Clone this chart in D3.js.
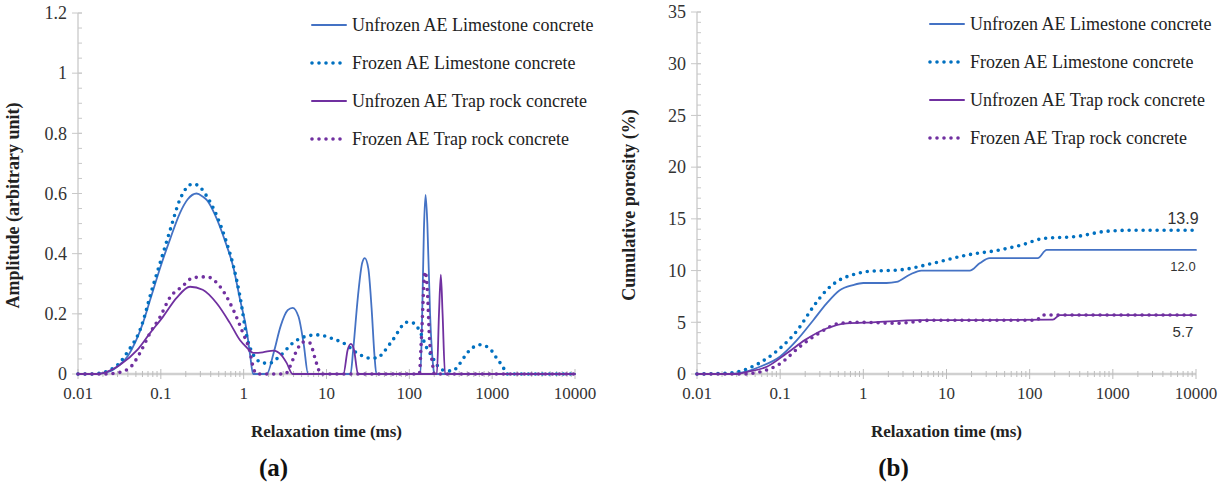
<!DOCTYPE html>
<html>
<head>
<meta charset="utf-8">
<script src="https://cdn.jsdelivr.net/npm/d3@7"></script>
<style>
  body { margin: 0; background: #fff; }
  svg text { font-family: "Liberation Serif", "Times New Roman", serif; fill: #222; }
</style>
</head>
<body>
<div id="chart"></div>
<script>
// relaxation time (ms) / amplitude pairs
const unfrozenLime = [
  [0.01, 0], [0.015, 0], [0.02, 0.003], [0.025, 0.01], [0.03, 0.025], [0.04, 0.06], [0.05, 0.11],
  [0.06, 0.165], [0.075, 0.25], [0.1, 0.36], [0.13, 0.45], [0.17, 0.535], [0.21, 0.58], [0.27, 0.6],
  [0.32, 0.59], [0.36, 0.578], [0.45, 0.53], [0.6, 0.44], [0.75, 0.355], [0.9, 0.25], [1.1, 0.136],
  [1.2, 0.06], [1.3, 0], [1.9, 0], [2.3, 0.07], [2.8, 0.16], [3.4, 0.212], [3.9, 0.22], [4.6, 0.19],
  [5.3, 0.1], [6.0, 0], [19.5, 0], [21, 0.08], [24, 0.26], [27, 0.37], [29, 0.385], [32, 0.35],
  [35, 0.22], [38, 0.06], [40, 0], [136, 0], [143, 0.2], [150, 0.48], [157, 0.595], [165, 0.5],
  [178, 0.2], [195, 0.02], [200, 0], [10000, 0]
];
const frozenLime = [
  [0.01, 0], [0.015, 0], [0.02, 0.005], [0.025, 0.015], [0.03, 0.03], [0.04, 0.075], [0.056, 0.146],
  [0.08, 0.29], [0.106, 0.4], [0.13, 0.48], [0.17, 0.58], [0.245, 0.632], [0.3, 0.62], [0.36, 0.59],
  [0.45, 0.54], [0.6, 0.45], [0.75, 0.36], [0.9, 0.26], [1.1, 0.12], [1.3, 0.065], [1.6, 0.04],
  [2.0, 0.035], [2.75, 0.06], [4, 0.105], [5.3, 0.123], [7.7, 0.13], [12.5, 0.115], [16, 0.103],
  [25, 0.065], [33, 0.053], [41, 0.053], [48, 0.07], [63, 0.113], [94, 0.172], [110, 0.17],
  [135, 0.14], [160, 0.09], [190, 0.056], [215, 0.03], [255, 0.013], [330, 0.01], [410, 0.036],
  [500, 0.07], [710, 0.097], [920, 0.086], [1130, 0.053], [1370, 0.02], [1500, 0], [10000, 0]
];
const unfrozenTrap = [
  [0.01, 0], [0.017, 0], [0.02, 0.003], [0.032, 0.03], [0.052, 0.08], [0.074, 0.136], [0.106, 0.19],
  [0.155, 0.253], [0.225, 0.29], [0.32, 0.28], [0.47, 0.236], [0.68, 0.17], [0.9, 0.113], [1.1, 0.087],
  [1.3, 0.07], [1.7, 0.072], [2.3, 0.078], [2.8, 0.065], [3.3, 0.037], [3.9, 0], [16, 0], [18, 0.08],
  [19.7, 0.1], [21.5, 0.08], [24, 0], [215, 0], [228, 0.2], [240, 0.33], [252, 0.2], [270, 0], [10000, 0]
];
const frozenTrap = [
  [0.01, 0], [0.02, 0], [0.03, 0.004], [0.043, 0.023], [0.056, 0.07], [0.074, 0.136], [0.098, 0.19],
  [0.13, 0.256], [0.18, 0.29], [0.245, 0.32], [0.36, 0.323], [0.52, 0.29], [0.75, 0.213],
  [0.98, 0.136], [1.2, 0.07], [1.3, 0.023], [1.45, 0], [3.2, 0], [3.6, 0.023], [4.4, 0.08],
  [5.2, 0.106], [6.3, 0.103], [7.2, 0.056], [7.9, 0.02], [8.5, 0], [132, 0], [140, 0.12],
  [155, 0.34], [165, 0.28], [175, 0.12], [190, 0.036], [200, 0], [10000, 0]
];

// cumulative porosity (%)
const cumUnfrozenLime = [
  [0.01, 0], [0.025, 0], [0.04, 0.25], [0.057, 0.7], [0.1, 1.7], [0.16, 3.3], [0.25, 5.2], [0.36, 6.8],
  [0.52, 8.1], [0.75, 8.6], [1.0, 8.8], [1.9, 8.8], [2.5, 8.9], [3.6, 9.6], [5.0, 10.0], [19, 10.0],
  [25, 10.7], [33, 11.2], [125, 11.2], [160, 12.0], [10000, 12.0]
];
const cumFrozenLime = [
  [0.01, 0], [0.025, 0.1], [0.043, 0.6], [0.069, 1.5], [0.1, 2.5], [0.16, 4.2], [0.25, 6.5], [0.36, 8.1],
  [0.52, 9.1], [0.75, 9.6], [1.1, 9.9], [3, 10.1], [6.8, 10.7], [17.6, 11.5], [44, 12.0], [82, 12.5],
  [145, 13.1], [370, 13.3], [840, 13.8], [1700, 13.9], [10000, 13.9]
];
const cumUnfrozenTrap = [
  [0.01, 0], [0.03, 0], [0.04, 0.2], [0.069, 0.7], [0.12, 2.0], [0.2, 3.3], [0.36, 4.4], [0.63, 4.9],
  [1.3, 5.0], [4.8, 5.2], [19, 5.2], [190, 5.25], [230, 5.7], [10000, 5.7]
];
const cumFrozenTrap = [
  [0.01, 0], [0.035, 0], [0.057, 0.2], [0.1, 1.0], [0.17, 2.6], [0.3, 4.0], [0.52, 4.9], [0.9, 5.0],
  [2.5, 4.9], [6.8, 5.2], [120, 5.2], [145, 5.7], [10000, 5.7]
];

const seriesNames = [
  "Unfrozen AE Limestone concrete",
  "Frozen AE Limestone concrete",
  "Unfrozen AE Trap rock concrete",
  "Frozen AE Trap rock concrete"
];
const seriesColors = ["#4472c4", "#0070c0", "#7030a0", "#7030a0"];
const seriesDotted = [false, true, false, true];

const xTicks = [0.01, 0.1, 1, 10, 100, 1000, 10000];
const ampTicks = [0, 0.2, 0.4, 0.6, 0.8, 1, 1.2];
const porTicks = [0, 5, 10, 15, 20, 25, 30, 35];
const endLabels = [["13.9", 13.9], ["12.0", 12.0], ["5.7", 5.7]];

const svg = d3.select("#chart").append("svg")
  .attr("width", 1228)
  .attr("height", 484);

function drawPanel(opt) {
  const g = svg.append("g").attr("transform", "translate(" + opt.left + "," + opt.top + ")");
  const x = d3.scaleLog().domain([0.01, 10000]).range([0, opt.width]);
  const y = d3.scaleLinear().domain([0, opt.ymax]).range([opt.height, 0]);

  // y axis line + ticks
  g.append("line").attr("x1", 0).attr("x2", 0).attr("y1", 0).attr("y2", opt.height)
    .attr("stroke", "#d0d0d0").attr("stroke-width", 1.5);
  const minorY = d3.range(0, opt.ymax + opt.minorStep / 2, opt.minorStep);
  g.selectAll(".ymin").data(minorY).join("line")
    .attr("x1", 0).attr("x2", 4).attr("y1", d => y(d)).attr("y2", d => y(d))
    .attr("stroke", "#c8c8c8");
  g.selectAll(".ymaj").data(opt.yTicks).join("line")
    .attr("x1", -6).attr("x2", 4).attr("y1", d => y(d)).attr("y2", d => y(d))
    .attr("stroke", "#c8c8c8");
  g.selectAll(".ylab").data(opt.yTicks).join("text")
    .attr("x", -11).attr("y", d => y(d)).attr("dy", "0.35em")
    .attr("text-anchor", "end").style("font-size", "18px").style("fill", "#333")
    .text(d => d);

  // x axis line + log ticks
  g.append("line").attr("x1", 0).attr("x2", opt.width).attr("y1", opt.height).attr("y2", opt.height)
    .attr("stroke", "#d0d0d0").attr("stroke-width", 2.5);
  const minorX = [];
  xTicks.slice(0, -1).forEach(d => { for (let k = 2; k < 10; k++) minorX.push(d * k); });
  g.selectAll(".xmin").data(minorX).join("line")
    .attr("x1", d => x(d)).attr("x2", d => x(d))
    .attr("y1", opt.height - 3).attr("y2", opt.height + 3)
    .attr("stroke", "#bdbdbd");
  g.selectAll(".xmaj").data(xTicks).join("line")
    .attr("x1", d => x(d)).attr("x2", d => x(d))
    .attr("y1", opt.height - 5).attr("y2", opt.height + 5)
    .attr("stroke", "#bdbdbd");
  g.selectAll(".xlab").data(xTicks).join("text")
    .attr("x", d => x(d)).attr("y", opt.height + 25)
    .attr("text-anchor", "middle").style("font-size", "17px").style("fill", "#333")
    .text(d => d);

  // axis titles
  g.append("text")
    .attr("x", opt.width / 2).attr("y", opt.height + 63)
    .attr("text-anchor", "middle").style("font-size", "17px").style("font-weight", "bold")
    .text("Relaxation time (ms)");
  g.append("text")
    .attr("transform", "translate(" + opt.ytitleX + "," + (opt.height / 2 + 12) + ") rotate(-90)")
    .attr("text-anchor", "middle").style("font-size", "18px").style("font-weight", "bold")
    .text(opt.ytitle);
  g.append("text")
    .attr("x", opt.width / 2 - 53).attr("y", opt.height + 102)
    .attr("text-anchor", "middle").style("font-size", "25px").style("font-weight", "bold")
    .style("fill", "#111")
    .text(opt.tag);

  // data lines
  const line = d3.line()
    .x(d => x(d[0]))
    .y(d => y(d[1]))
    .curve(d3.curveMonotoneX);
  opt.series.forEach((s, i) => {
    g.append("path")
      .datum(s)
      .attr("fill", "none")
      .attr("stroke", seriesColors[i])
      .attr("stroke-width", seriesDotted[i] ? 3.6 : 1.8)
      .attr("stroke-linecap", "round")
      .attr("stroke-dasharray", seriesDotted[i] ? "0 7" : null)
      .attr("d", line);
  });

  // legend
  const lg = g.append("g").attr("transform", "translate(" + opt.legendX + ",0)");
  seriesNames.forEach((name, i) => {
    const ly = 12 + i * 38;
    lg.append("line")
      .attr("x1", 0).attr("x2", 34).attr("y1", ly).attr("y2", ly)
      .attr("stroke", seriesColors[i])
      .attr("stroke-width", seriesDotted[i] ? 3.6 : 2)
      .attr("stroke-linecap", "round")
      .attr("stroke-dasharray", seriesDotted[i] ? "0 7" : null);
    lg.append("text")
      .attr("x", 40).attr("y", ly).attr("dy", "0.35em")
      .style("font-size", "18px").style("fill", "#222")
      .text(name);
  });

  return { g: g, x: x, y: y };
}

drawPanel({
  left: 78, top: 13, width: 497, height: 361, ymax: 1.2, minorStep: 0.05,
  yTicks: ampTicks, ytitle: "Amplitude (arbitrary unit)", ytitleX: -59, tag: "(a)",
  legendX: 234, series: [unfrozenLime, frozenLime, unfrozenTrap, frozenTrap]
});

const b = drawPanel({
  left: 697, top: 12, width: 499, height: 362, ymax: 35, minorStep: 1,
  yTicks: porTicks, ytitle: "Cumulative porosity (%)", ytitleX: -62, tag: "(b)",
  legendX: 233, series: [cumUnfrozenLime, cumFrozenLime, cumUnfrozenTrap, cumFrozenTrap]
});

// end values on panel (b)
const labelSize = { "13.9": 16, "12.0": 13, "5.7": 15 };
const labelOffset = { "13.9": -12, "12.0": 17, "5.7": 17 };
b.g.selectAll(".endlab").data(endLabels).join("text")
  .attr("x", b.x(10000) - 13)
  .attr("y", d => b.y(d[1]) + labelOffset[d[0]])
  .attr("text-anchor", "middle")
  .attr("dy", "0.35em")
  .style("font-family", "'Liberation Sans', Arial, sans-serif")
  .style("font-size", d => labelSize[d[0]] + "px")
  .style("fill", "#333")
  .text(d => d[0]);
</script>
</body>
</html>
